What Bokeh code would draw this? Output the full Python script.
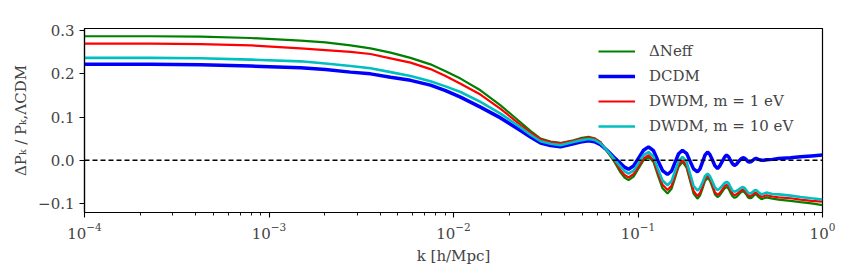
from bokeh.plotting import figure
from bokeh.models import Span, Legend, LegendItem, FixedTicker, LogTicker
from bokeh.embed import file_html
from bokeh.resources import INLINE

# log10 of k [h/Mpc]
log_k = [-4.000, -3.805, -3.642, -3.371, -3.100, -2.829, -2.694, -2.558, -2.450,
         -2.341, -2.233, -2.125, -2.043, -1.962, -1.854, -1.745, -1.637, -1.583,
         -1.528, -1.474, -1.420, -1.350, -1.312, -1.268, -1.236, -1.203, -1.165,
         -1.133, -1.095, -1.073, -1.051, -1.024, -0.997, -0.970, -0.943, -0.916,
         -0.892, -0.867, -0.840, -0.818, -0.799, -0.780, -0.759, -0.737, -0.718,
         -0.699, -0.678, -0.664, -0.650, -0.637, -0.623, -0.610, -0.596, -0.583,
         -0.569, -0.558, -0.545, -0.531, -0.520, -0.509, -0.499, -0.488, -0.477,
         -0.466, -0.455, -0.442, -0.431, -0.423, -0.412, -0.404, -0.396, -0.385,
         -0.377, -0.369, -0.360, -0.347, -0.331, -0.317, -0.304, -0.271, -0.238,
         -0.173, -0.119, -0.060, 0.000]

dneff = [0.287, 0.287, 0.287, 0.286, 0.283, 0.277, 0.273, 0.266, 0.259, 0.249,
         0.237, 0.222, 0.206, 0.189, 0.162, 0.127, 0.088, 0.068, 0.050, 0.043,
         0.040, 0.046, 0.051, 0.054, 0.051, 0.042, 0.019, 0.000, -0.028, -0.040,
         -0.046, -0.038, -0.019, 0.000, 0.008, -0.004, -0.035, -0.065, -0.077,
         -0.066, -0.041, -0.015, -0.004, -0.017, -0.047, -0.077, -0.089, -0.082,
         -0.065, -0.048, -0.041, -0.047, -0.063, -0.079, -0.085, -0.082, -0.074,
         -0.065, -0.062, -0.066, -0.075, -0.083, -0.087, -0.085, -0.080, -0.074,
         -0.072, -0.074, -0.080, -0.086, -0.088, -0.087, -0.084, -0.080, -0.079,
         -0.085, -0.090, -0.088, -0.086, -0.089, -0.091, -0.094, -0.097, -0.100,
         -0.104]

dcdm = [0.222, 0.222, 0.222, 0.221, 0.218, 0.214, 0.210, 0.204, 0.200, 0.192,
        0.185, 0.174, 0.161, 0.146, 0.123, 0.098, 0.069, 0.054, 0.040, 0.034,
        0.031, 0.038, 0.042, 0.045, 0.043, 0.036, 0.022, 0.008, -0.007, -0.016,
        -0.021, -0.013, 0.005, 0.023, 0.031, 0.022, -0.001, -0.024, -0.033,
        -0.025, -0.005, 0.015, 0.023, 0.016, -0.002, -0.020, -0.027, -0.020,
        -0.004, 0.012, 0.019, 0.013, 0.000, -0.013, -0.019, -0.014, -0.004,
        0.007, 0.012, 0.008, 0.000, -0.008, -0.012, -0.009, -0.003, 0.003,
        0.006, 0.005, 0.001, -0.003, -0.004, -0.003, 0.000, 0.003, 0.004,
        0.002, 0.000, 0.000, 0.001, 0.002, 0.004, 0.006, 0.008, 0.010, 0.012]

dwdm1 = [0.270, 0.270, 0.270, 0.269, 0.266, 0.259, 0.255, 0.251, 0.246, 0.236,
         0.226, 0.211, 0.195, 0.177, 0.152, 0.119, 0.082, 0.064, 0.048, 0.042,
         0.039, 0.045, 0.049, 0.052, 0.050, 0.041, 0.020, 0.003, -0.023, -0.034,
         -0.040, -0.032, -0.014, 0.004, 0.012, 0.000, -0.029, -0.057, -0.069,
         -0.059, -0.035, -0.010, 0.000, -0.012, -0.042, -0.071, -0.083, -0.076,
         -0.060, -0.043, -0.036, -0.042, -0.058, -0.074, -0.080, -0.077, -0.069,
         -0.060, -0.057, -0.060, -0.069, -0.077, -0.081, -0.079, -0.075, -0.070,
         -0.068, -0.070, -0.076, -0.081, -0.083, -0.082, -0.079, -0.076, -0.075,
         -0.080, -0.085, -0.083, -0.081, -0.084, -0.086, -0.088, -0.091, -0.094,
         -0.096]

dwdm10 = [0.237, 0.237, 0.237, 0.236, 0.233, 0.229, 0.224, 0.218, 0.213, 0.204,
          0.195, 0.183, 0.171, 0.158, 0.135, 0.108, 0.076, 0.059, 0.044, 0.038,
          0.035, 0.042, 0.046, 0.049, 0.047, 0.039, 0.021, 0.005, -0.015, -0.025,
          -0.031, -0.024, -0.006, 0.012, 0.019, 0.008, -0.020, -0.047, -0.058,
          -0.048, -0.025, -0.002, 0.008, -0.003, -0.031, -0.059, -0.070, -0.064,
          -0.051, -0.037, -0.031, -0.037, -0.050, -0.063, -0.069, -0.066, -0.060,
          -0.053, -0.050, -0.053, -0.062, -0.070, -0.073, -0.071, -0.068, -0.064,
          -0.062, -0.064, -0.070, -0.075, -0.077, -0.076, -0.073, -0.070, -0.069,
          -0.074, -0.079, -0.077, -0.075, -0.078, -0.079, -0.082, -0.085, -0.088,
          -0.091]

labels = ["ΔNeff", "DCDM", "DWDM, m = 1 eV", "DWDM, m = 10 eV"]
y_ticks = [-0.1, 0.0, 0.1, 0.2, 0.3]
y_tick_labels = ["−0.1", "0.0", "0.1", "0.2", "0.3"]

k = [10 ** v for v in log_k]

FONT = "DejaVu Serif"

p = figure(frame_width=738, frame_height=184, x_axis_type="log",
           x_range=(1e-4, 1.0), y_range=(-0.121, 0.305),
           output_backend="svg", toolbar_location=None,
           min_border_left=84, min_border_right=16,
           min_border_top=28, min_border_bottom=58)
p.grid.visible = False
p.outline_line_color = "black"
p.outline_line_width = 1.2

p.add_layout(Span(location=0, dimension="width", line_color="black",
                  line_dash="5 3", line_width=1.3))

r1 = p.line(k, dneff, line_color="#008000", line_width=2.2)
r2 = p.line(k, dcdm, line_color="#0000ff", line_width=3.5)
r3 = p.line(k, dwdm1, line_color="#ff0000", line_width=2.2)
r4 = p.line(k, dwdm10, line_color="#00bfbf", line_width=2.6)

legend = Legend(items=[LegendItem(label=l, renderers=[r]) for l, r in
                       zip(labels, [r1, r2, r3, r4])],
                location=(514, 74), padding=0, margin=0, spacing=1,
                glyph_width=37, glyph_height=24, label_height=24,
                label_standoff=14, border_line_alpha=0,
                background_fill_alpha=0,
                label_text_font=FONT, label_text_font_size="15px")
p.add_layout(legend)

p.yaxis.ticker = FixedTicker(ticks=y_ticks)
p.yaxis.major_label_overrides = dict(zip(y_ticks, y_tick_labels))
p.xaxis.ticker = LogTicker(desired_num_ticks=5, num_minor_ticks=10)

for ax in (p.xaxis[0], p.yaxis[0]):
    ax.axis_line_color = "black"
    ax.axis_line_width = 1.2
    ax.major_tick_in = 0
    ax.major_tick_out = 5
    ax.minor_tick_in = 0
    ax.minor_tick_out = 3
    ax.major_tick_line_width = 1.1
    ax.minor_tick_line_width = 0.9
    ax.major_label_text_font = FONT
    ax.major_label_text_font_size = "15px"
    ax.axis_label_text_font = FONT
    ax.axis_label_text_font_size = "15px"
    ax.axis_label_text_font_style = "normal"
p.yaxis.minor_tick_out = 0

p.xaxis.axis_label = "k [h/Mpc]"
p.yaxis.axis_label = "ΔPₖ / Pₖ,ΛCDM"

open("out.html", "w").write(file_html(p, INLINE))
